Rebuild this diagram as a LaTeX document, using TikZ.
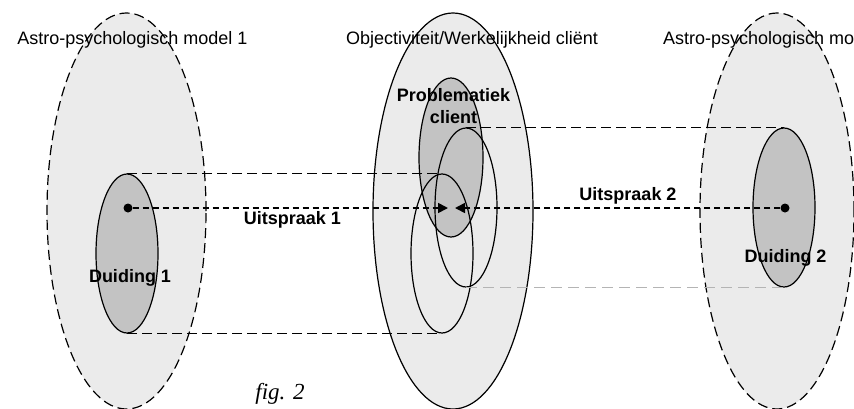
\documentclass[tikz,border=0pt]{standalone}
\usepackage{fontspec}
\setmainfont{Liberation Sans}
\newfontfamily\figfont{Liberation Serif}
\usetikzlibrary{shapes.geometric,arrows.meta}
\definecolor{lightfill}{RGB}{235,235,235}
\definecolor{darkfill}{RGB}{195,195,195}
\definecolor{faintline}{RGB}{180,180,180}
\begin{document}
\begin{tikzpicture}[x=1pt,y=-1pt,
  bigdashed/.style={draw=black,fill=lightfill,line width=1.2pt,dash pattern=on 10pt off 5pt},
  bigsolid/.style={draw=black,fill=lightfill,line width=1.2pt},
  smallell/.style={ellipse,draw=black,line width=1.2pt,inner sep=0pt,minimum width=62pt,minimum height=159pt},
  grayell/.style={smallell,fill=darkfill},
  dot/.style={circle,fill=black,inner sep=0pt,minimum size=9pt},
  proj/.style={draw=black,line width=1.7pt,dash pattern=on 10pt off 5pt},
  projgray/.style={draw=faintline,line width=1pt,dash pattern=on 11pt off 6pt},
  arrowline/.style={draw=black,line width=1.7pt,dash pattern=on 6pt off 4pt,-{Triangle[length=10pt,width=10pt]}},
  title/.style={font=\fontsize{18}{20}\selectfont,inner sep=0pt},
  label/.style={font=\bfseries\fontsize{18}{22}\selectfont,inner sep=0pt,align=center}]
\clip (0,0) rectangle (854,408);
\fill[white] (0,0) rectangle (854,408);
% big ellipses
\path[bigdashed] (126.5,211) ellipse [x radius=79.5pt, y radius=198pt];
\path[bigsolid] (453,211) ellipse [x radius=80pt, y radius=198pt];
\path[bigdashed] (777,211) ellipse [x radius=77pt, y radius=198pt];
% inner ellipses
\node[grayell] (d1) at (127,253.5) {};
\node[grayell] (d2) at (784,207.5) {};
\node[grayell,minimum width=64pt] (prob) at (451,157.5) {};
\node[smallell] (ea) at (442,253.5) {};
\node[smallell] (eb) at (466,207.5) {};
% projection lines
\draw[proj] (d1.north) -- (ea.north);
\draw[proj] (d1.south) -- (ea.south);
\draw[proj] (eb.north) -- (d2.north);
\draw[projgray] (eb.south) -- (d2.south);
% dots and arrows
\node[dot] (p1) at (128,208) {};
\node[dot] (p2) at (785,208) {};
\coordinate (t1) at (448,208);
\coordinate (t2) at (455,208);
\draw[arrowline] (p1) -- (t1);
\draw[arrowline] (p2) -- (t2);
% texts
\node[title] (ttl1) at (132.5,40) {Astro-psychologisch model 1};
\node[title] (ttl2) at (472,40) {Objectiviteit/Werkelijkheid cliënt};
\node[title,anchor=west] (ttl3) at (663,40) {Astro-psychologisch model 2};
\node[label] (u1) at (292.5,220) {Uitspraak 1};
\node[label] (u2) at (628,196) {Uitspraak 2};
\node[label] (l1) at (130,278) {Duiding 1};
\node[label] (l2) at (785.5,258) {Duiding 2};
\node[label] (lp) at (453.5,106) {Problematiek\\client};
\node[font=\figfont\itshape\fontsize{23}{26}\selectfont,inner sep=0pt] (fig) at (280,394) {fig. 2};
\end{tikzpicture}
\end{document}
